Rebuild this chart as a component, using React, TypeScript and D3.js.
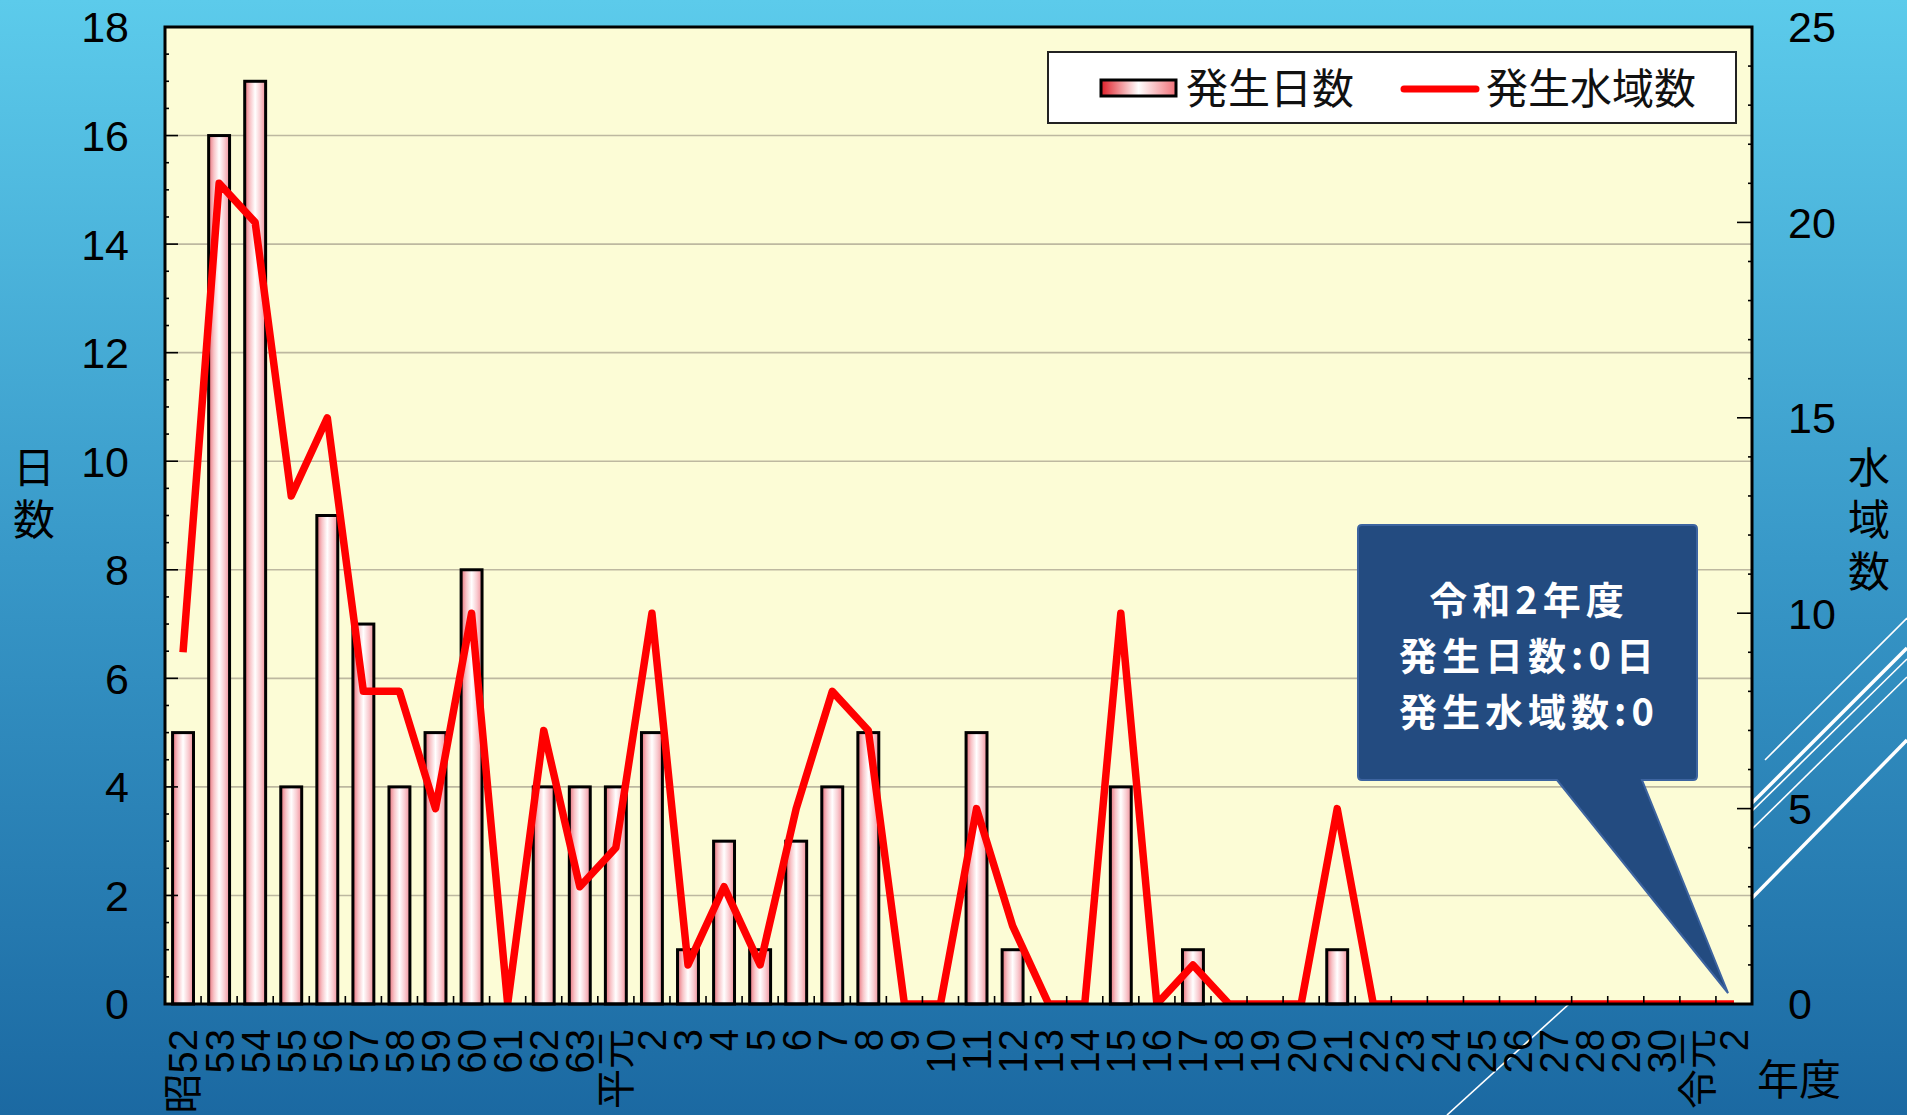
import React from 'react';
import * as d3 from 'd3';

// page + plot frame
const W = 1907;
const H = 1115;
const plot = { left: 165, right: 1752, top: 27, bottom: 1004 };

// data
const years = ['昭52', '53', '54', '55', '56', '57', '58', '59', '60', '61', '62', '63',
  '平元', '2', '3', '4', '5', '6', '7', '8', '9', '10', '11', '12', '13', '14', '15', '16', '17', '18',
  '19', '20', '21', '22', '23', '24', '25', '26', '27', '28', '29', '30', '令元', '2'];
const days = [5, 16, 17, 4, 9, 7, 4, 5, 8, 0, 4, 4,
  4, 5, 1, 3, 1, 3, 4, 5, 0, 0, 5, 1, 0, 0, 4, 0, 1, 0,
  0, 0, 1, 0, 0, 0, 0, 0, 0, 0, 0, 0, 0, 0];
const areas = [9, 21, 20, 13, 15, 8, 8, 5, 10, 0, 7, 3,
  4, 10, 1, 3, 1, 5, 8, 7, 0, 0, 5, 2, 0, 0, 10, 0, 1, 0,
  0, 0, 5, 0, 0, 0, 0, 0, 0, 0, 0, 0, 0, 0];
const leftTicks = [0, 2, 4, 6, 8, 10, 12, 14, 16, 18];
const rightTicks = [0, 5, 10, 15, 20, 25];
const calloutLines = ['令和2年度', '発生日数:0日', '発生水域数:0'];

const numFont = "'Liberation Sans', Arial, 'Noto Sans CJK JP', sans-serif";
const jpFont = "'Noto Sans CJK JP', 'Noto Sans', sans-serif";

const App = () => {
  const x = d3.scaleBand<number>()
    .domain(years.map((d, i) => i))
    .range([plot.left, plot.right])
    .padding(0);
  const yLeft = d3.scaleLinear().domain([0, 18]).range([plot.bottom, plot.top]);
  const yRight = d3.scaleLinear().domain([0, 25]).range([plot.bottom, plot.top]);

  const bw = x.bandwidth();
  const barW = bw * 0.58;
  const cx = (i: number) => (x(i) as number) + bw / 2;

  const linePath = d3.line<number>()
    .x((d, i) => cx(i))
    .y(d => yRight(d))(areas) as string;

  const minorLeft = d3.range(0, 18.01, 0.5);
  const minorRight = d3.range(0, 25.01, 1);

  // callout geometry
  const cb = { l: 1358, r: 1697, t: 525, b: 780 };
  const calloutPath = `M${cb.l + 4},${cb.t} H${cb.r - 4} Q${cb.r},${cb.t} ${cb.r},${cb.t + 4} V${cb.b - 4} Q${cb.r},${cb.b} ${cb.r - 4},${cb.b} H1642 L1728,993 L1557,${cb.b} H${cb.l + 4} Q${cb.l},${cb.b} ${cb.l},${cb.b - 4} V${cb.t + 4} Q${cb.l},${cb.t} ${cb.l + 4},${cb.t} Z`;

  const vertical = { writingMode: 'vertical-rl' as const };

  return (
    <svg width={W} height={H} style={{ position: 'absolute', left: 0, top: 0, display: 'block' }}>
      <defs>
        <linearGradient id="bg" x1="0" y1="0" x2="0" y2="1">
          <stop offset="0" stopColor="#5ccbeb" />
          <stop offset="0.5" stopColor="#3898c8" />
          <stop offset="1" stopColor="#1b69a2" />
        </linearGradient>
        <linearGradient id="barFill" x1="0" y1="0" x2="1" y2="0">
          <stop offset="0" stopColor="#e8707a" />
          <stop offset="0.25" stopColor="#f8c4c8" />
          <stop offset="0.5" stopColor="#ffffff" />
          <stop offset="0.75" stopColor="#f9cdd2" />
          <stop offset="1" stopColor="#f0909a" />
        </linearGradient>
        <linearGradient id="legFill" x1="0" y1="0" x2="1" y2="0">
          <stop offset="0" stopColor="#e01e28" />
          <stop offset="0.5" stopColor="#ffffff" />
          <stop offset="1" stopColor="#f07078" />
        </linearGradient>
        <clipPath id="plotClip">
          <rect x={plot.left} y={plot.top} width={plot.right - plot.left} height={plot.bottom - plot.top} />
        </clipPath>
      </defs>

      {/* slide background */}
      <rect x={0} y={0} width={W} height={H} fill="url(#bg)" />
      <g stroke="#fff" fill="none">
        <line x1={1765} y1={760} x2={1907} y2={618} strokeWidth={1.6} />
        <line x1={1700} y1={855} x2={1907} y2={648} strokeWidth={3.5} />
        <line x1={1700} y1={862} x2={1907} y2={659} strokeWidth={1.6} />
        <line x1={1700} y1={880} x2={1907} y2={677} strokeWidth={1.6} />
        <line x1={1700} y1={951} x2={1907} y2={740} strokeWidth={3.5} />
        <line x1={1447} y1={1115} x2={1580} y2={994} strokeWidth={1.6} />
      </g>

      {/* plot area */}
      <rect x={plot.left} y={plot.top} width={plot.right - plot.left} height={plot.bottom - plot.top} fill="#fcfcd6" />
      {leftTicks.filter(t => t > 0 && t < 18).map(t => (
        <line key={'g' + t} x1={plot.left} x2={plot.right} y1={yLeft(t)} y2={yLeft(t)} stroke="#bdb8a0" strokeWidth={1.6} />
      ))}

      {/* bars */}
      {days.map((d, i) => d > 0 && (
        <rect key={'b' + i} x={cx(i) - barW / 2} y={yLeft(d)} width={barW} height={plot.bottom - yLeft(d)}
          fill="url(#barFill)" stroke="#000" strokeWidth={3} />
      ))}

      {/* line */}
      <path d={linePath} fill="none" stroke="#ff0000" strokeWidth={7.5} strokeLinejoin="round" clipPath="url(#plotClip)" />

      {/* ticks */}
      <g stroke="#000" strokeWidth={1.6}>
        {years.slice(1).map((y, i) => (
          <line key={'xt' + i} x1={x(i + 1)} x2={x(i + 1)} y1={plot.bottom} y2={plot.bottom - 8} />
        ))}
        {minorLeft.map(t => (
          <line key={'lt' + t} x1={plot.left} x2={plot.left + (t % 2 === 0 ? 13 : 4)} y1={yLeft(t)} y2={yLeft(t)} />
        ))}
        {minorRight.map(t => (
          <line key={'rt' + t} x1={plot.right} x2={plot.right - (t % 5 === 0 ? 15 : 4)} y1={yRight(t)} y2={yRight(t)} />
        ))}
      </g>
      <rect x={plot.left} y={plot.top} width={plot.right - plot.left} height={plot.bottom - plot.top}
        fill="none" stroke="#000" strokeWidth={3} />

      {/* axis labels */}
      <g fontFamily={numFont} fontSize={43} fill="#000">
        {leftTicks.map(t => (
          <text key={'ll' + t} x={129} y={yLeft(t)} dy="0.36em" textAnchor="end">{t}</text>
        ))}
        {rightTicks.map(t => (
          <text key={'rl' + t} x={1788} y={yRight(t)} dy="0.36em" textAnchor="start">{t}</text>
        ))}
      </g>
      <g fontFamily={numFont} fontSize={40} fill="#000">
        {years.map((y, i) => (
          <text key={'xl' + i} transform={`translate(${cx(i)},${plot.bottom + 25}) rotate(-90)`}
            textAnchor="end" dy="0.36em">{y}</text>
        ))}
      </g>
      <g fontFamily={jpFont} fontSize={42} fill="#000">
        <text x={34} y={446} style={vertical} letterSpacing={10}>日数</text>
        <text x={1869} y={446} style={vertical} letterSpacing={10}>水域数</text>
        <text x={1799} y={1080} dy="0.36em" textAnchor="middle">年度</text>
      </g>

      {/* legend */}
      <rect x={1048} y={52} width={688} height={71} fill="#ffffff" stroke="#222" strokeWidth={2} />
      <rect x={1101} y={80} width={75} height={16} fill="url(#legFill)" stroke="#000" strokeWidth={3} />
      <text x={1186} y={89} dy="0.36em" fontFamily={jpFont} fontSize={42} fill="#111">発生日数</text>
      <line x1={1404} x2={1476} y1={89} y2={89} stroke="#ff0000" strokeWidth={7} strokeLinecap="round" />
      <text x={1486} y={89} dy="0.36em" fontFamily={jpFont} fontSize={42} fill="#111">発生水域数</text>

      {/* callout */}
      <path d={calloutPath} fill="#234b80" stroke="#3d64a0" strokeWidth={2} />
      <g fontFamily={jpFont} fontSize={38} fontWeight="bold" fill="#fff" textAnchor="middle" letterSpacing={5}>
        {calloutLines.map((t, i) => (
          <text key={'c' + i} x={1529} y={600 + i * 56} dy="0.36em">{t}</text>
        ))}
      </g>
    </svg>
  );
};

export default App;
